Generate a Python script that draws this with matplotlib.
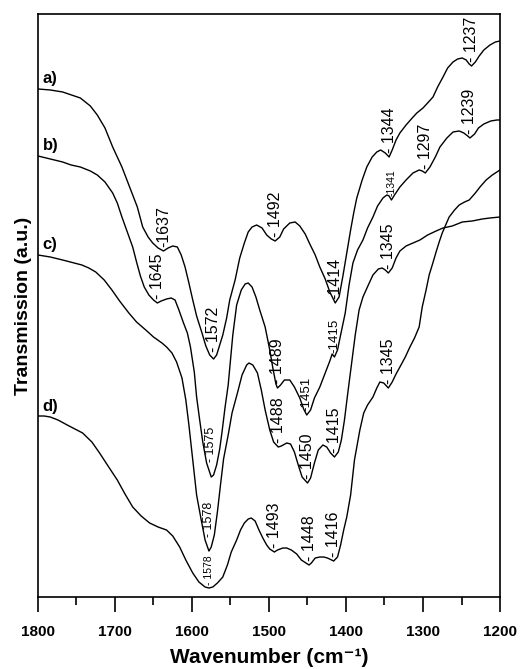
import numpy as np
import matplotlib.pyplot as plt
from matplotlib.ticker import MultipleLocator

plt.rcParams['font.family'] = ['Liberation Sans', 'DejaVu Sans']

# spectrum a)
wn_a = [1800, 1784, 1768, 1745, 1732, 1723, 1713, 1703, 1691, 1681,
        1671, 1664, 1657, 1651, 1644, 1637, 1631, 1625, 1619, 1614,
        1609, 1604, 1599, 1594, 1587, 1582, 1577, 1572, 1568, 1564,
        1560, 1555, 1551, 1544, 1538, 1532, 1527, 1522, 1516, 1509,
        1503, 1497, 1492, 1486, 1481, 1473, 1466, 1460, 1453, 1447,
        1440, 1434, 1427, 1421, 1414, 1409, 1404, 1399, 1394, 1390,
        1386, 1379, 1373, 1366, 1360, 1355, 1349, 1344, 1340, 1335,
        1330, 1322, 1314, 1308, 1300, 1294, 1287, 1281, 1274, 1268,
        1261, 1255, 1249, 1244, 1240, 1237, 1232, 1227, 1221, 1213,
        1206, 1200]
t_a = [508, 507, 505, 499, 491, 482, 469, 450, 430, 410,
       390, 370, 360, 354, 349, 346, 349, 351, 350, 342,
       330, 314, 297, 281, 264, 251, 242, 238, 242, 252,
       262, 279, 297, 317, 339, 354, 365, 370, 372, 369,
       362, 358, 356, 360, 368, 374, 375, 371, 363, 353,
       342, 330, 318, 305, 294, 300, 321, 344, 367, 384,
       399, 417, 430, 440, 445, 447, 444, 440, 447, 457,
       464, 472, 479, 484, 489, 494, 500, 510, 520, 529,
       535, 538, 539, 537, 533, 531, 535, 541, 547, 552,
       555, 556]

# spectrum b)
wn_b = [1800, 1784, 1768, 1757, 1745, 1732, 1723, 1713, 1703, 1697,
        1691, 1684, 1677, 1672, 1667, 1662, 1656, 1650, 1645, 1640,
        1633, 1627, 1622, 1617, 1611, 1606, 1602, 1597, 1594, 1590,
        1586, 1581, 1575, 1572, 1568, 1564, 1561, 1557, 1553, 1547,
        1542, 1536, 1531, 1527, 1522, 1517, 1512, 1505, 1499, 1495,
        1491, 1489, 1485, 1480, 1473, 1467, 1460, 1455, 1451, 1446,
        1441, 1434, 1428, 1421, 1418, 1415, 1411, 1407, 1401, 1396,
        1391, 1385, 1378, 1372, 1365, 1359, 1352, 1347, 1344, 1341,
        1337, 1330, 1322, 1313, 1305, 1301, 1297, 1291, 1284, 1278,
        1269, 1261, 1253, 1247, 1242, 1239, 1233, 1228, 1221, 1212,
        1204, 1200]
t_b = [441, 438, 435, 432, 430, 426, 422, 415, 404, 394,
       380, 365, 350, 335, 321, 310, 302, 297, 294, 296,
       298, 299, 297, 287, 274, 264, 250, 225, 200, 177,
       155, 134, 120, 122, 132, 148, 165, 190, 212, 262,
       292, 307, 313, 314, 310, 300, 287, 270, 247, 229,
       213, 209, 212, 217, 217, 210, 199, 188, 182, 187,
       199, 210, 222, 236, 243, 240, 247, 262, 284, 312,
       334, 347, 357, 369, 380, 391, 399, 402, 401, 397,
       402, 410, 417, 424, 427, 426, 424, 430, 440, 450,
       459, 465, 466, 464, 461, 459, 463, 469, 473, 476,
       477, 477]

# spectrum c)
wn_c = [1800, 1784, 1768, 1753, 1743, 1734, 1725, 1714, 1704, 1694,
        1682, 1672, 1660, 1650, 1639, 1633, 1626, 1620, 1613, 1608,
        1604, 1599, 1594, 1588, 1583, 1578, 1575, 1571, 1567, 1563,
        1559, 1553, 1548, 1541, 1535, 1529, 1526, 1521, 1515, 1510,
        1505, 1499, 1494, 1488, 1484, 1477, 1472, 1467, 1462, 1457,
        1450, 1446, 1441, 1436, 1430, 1425, 1420, 1415, 1410, 1406,
        1402, 1398, 1393, 1388, 1383, 1378, 1371, 1365, 1358, 1353,
        1349, 1345, 1340, 1335, 1330, 1322, 1313, 1304, 1294, 1283,
        1274, 1262, 1249, 1236, 1223, 1213, 1200]
t_c = [342, 340, 337, 334, 332, 329, 325, 317, 307, 296,
       284, 275, 267, 260, 254, 250, 244, 235, 219, 197,
       172, 137, 102, 77, 57, 46, 50, 62, 85, 112,
       138, 162, 184, 204, 222, 232, 234, 232, 224, 207,
       187, 167, 155, 150, 151, 154, 153, 145, 132, 120,
       114, 119, 134, 147, 152, 150, 144, 140, 145, 157,
       177, 202, 232, 262, 287, 300, 312, 322, 328, 329,
       327, 324, 329, 339, 346, 351, 354, 357, 362, 366,
       369, 371, 375, 376, 378, 379, 380]

# spectrum d)
wn_d = [1800, 1792, 1784, 1774, 1762, 1752, 1742, 1730, 1720, 1709,
        1697, 1687, 1677, 1666, 1655, 1644, 1633, 1625, 1616, 1608,
        1599, 1591, 1583, 1578, 1573, 1567, 1560, 1554, 1549, 1542,
        1537, 1532, 1527, 1523, 1518, 1513, 1508, 1503, 1499, 1493,
        1489, 1482, 1477, 1471, 1464, 1458, 1448, 1445, 1440, 1434,
        1429, 1424, 1416, 1411, 1407, 1403, 1399, 1394, 1389, 1382,
        1377, 1372, 1365, 1360, 1356, 1351, 1345, 1340, 1335, 1330,
        1323, 1317, 1311, 1305, 1301, 1296, 1292, 1288, 1283, 1279,
        1275, 1270, 1266, 1259, 1253, 1246, 1240, 1232, 1226, 1218,
        1210, 1204, 1200]
t_d = [181, 181, 180, 177, 172, 168, 164, 155, 144, 131,
       117, 103, 90, 81, 74, 70, 67, 61, 50, 37,
       24, 15, 10, 9, 10, 14, 20, 32, 45, 57,
       67, 74, 78, 79, 76, 67, 59, 52, 48, 45,
       47, 49, 49, 47, 43, 37, 32, 34, 39, 40,
       40, 39, 36, 40, 52, 67, 80, 102, 137, 167,
       184, 192, 200, 209, 215, 214, 209, 215, 223, 230,
       240, 250, 259, 270, 290, 307, 322, 332, 345, 355,
       364, 373, 380, 387, 392, 395, 397, 404, 410, 417,
       422, 425, 427]

# band positions marked on each spectrum
peaks_a = [1637, 1572, 1492, 1414, 1344, 1237]
text_a = ["-1637", "- 1572", "- 1492", "-1414", "- 1344", "- 1237"]
peaks_b = [1645, 1575, 1489, 1451, 1415, 1341, 1297, 1239]
text_b = ["- 1645", "- 1575", "- 1489", "-1451", "-1415", "-1341", "- 1297", "- 1239"]
peaks_c = [1578, 1488, 1450, 1415, 1345]
text_c = ["- 1578", "- 1488", "- 1450", "- 1415", "- 1345"]
peaks_d = [1578, 1493, 1448, 1416, 1345]
text_d = ["- 1578", "- 1493", "- 1448", "- 1416", "- 1345"]

curve_names = ["a)", "b)", "c)", "d)"]

# smaller lettering / larger gap for the labels squeezed inside narrow bands
small = {("b", 1341): 7.5, ("d", 1578): 7.5,
         ("b", 1575): 9, ("b", 1451): 9.5, ("b", 1415): 9.5, ("c", 1578): 9}
gap = {("a", 1572): 7, ("b", 1575): 15, ("c", 1578): 14, ("d", 1578): 3}

fig = plt.figure(figsize=(5.21, 6.69), dpi=100)
ax = fig.add_axes([0.0729, 0.1076, 0.8868, 0.8715])

spectra = [("a", wn_a, t_a, peaks_a, text_a),
           ("b", wn_b, t_b, peaks_b, text_b),
           ("c", wn_c, t_c, peaks_c, text_c),
           ("d", wn_d, t_d, peaks_d, text_d)]

for (key, wn, t, peaks, texts), name in zip(spectra, curve_names):
    wn = np.array(wn)
    t = np.array(t)
    ax.plot(wn, t, color='black', lw=1.0)
    ax.text(1794, t[0] + 10, name, fontsize=12, fontweight='bold',
            ha='left', va='center')
    for p, s in zip(peaks, texts):
        y = np.interp(p, wn[::-1], t[::-1]) + gap.get((key, p), 4)
        ax.text(p, y, s, rotation=90, rotation_mode='anchor',
                ha='left', va='center', fontsize=small.get((key, p), 11.5))

ax.set_xlim(1800, 1200)
ax.set_ylim(0, 583)
ax.set_yticks([])
ax.xaxis.set_major_locator(MultipleLocator(100))
ax.xaxis.set_minor_locator(MultipleLocator(50))
ax.tick_params(axis='x', which='major', direction='out', length=10.8,
               width=1.2, pad=9, labelsize=11)
ax.tick_params(axis='x', which='minor', direction='out', length=5.8, width=1.2)
for lab in ax.get_xticklabels():
    lab.set_fontweight('bold')
for sp in ax.spines.values():
    sp.set_linewidth(1.2)

ax.set_xlabel("Wavenumber (cm⁻¹)", fontsize=15, fontweight='bold', labelpad=7)
ax.set_ylabel("Transmission (a.u.)", fontsize=14, fontweight='bold', labelpad=4)

fig.savefig("out.png", dpi=100)
